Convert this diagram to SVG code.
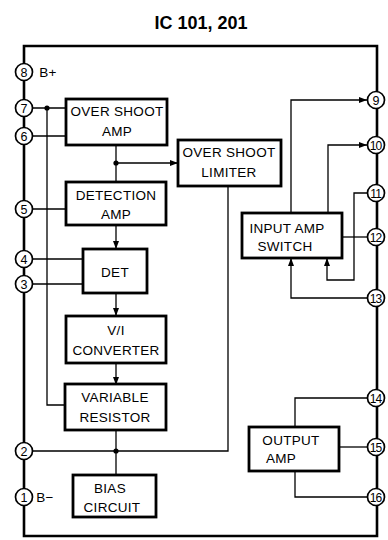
<svg xmlns="http://www.w3.org/2000/svg" width="388" height="540" viewBox="0 0 388 540">
<style>
.frame{fill:none;stroke:#000;stroke-width:2.6}
.box{fill:#fff;stroke:#000;stroke-width:2.8}
.wire{fill:none;stroke:#000;stroke-width:1.3}
.pin{fill:#fff;stroke:#000;stroke-width:1.7}
.lbl{font-family:"Liberation Sans",Arial,sans-serif;font-size:13.5px;fill:#000;text-anchor:middle;letter-spacing:0.3px}
.pn{font-family:"Liberation Sans",Arial,sans-serif;font-size:12.5px;fill:#000;text-anchor:middle}
.pn2{font-family:"Liberation Sans",Arial,sans-serif;font-size:12px;fill:#000;text-anchor:middle;letter-spacing:-0.8px}
.title{font-family:"Liberation Sans",Arial,sans-serif;font-size:18px;font-weight:bold;fill:#000;text-anchor:middle}
.dot{fill:#000}
</style>
<defs>
<marker id="arr" markerWidth="8" markerHeight="6" refX="8" refY="3" orient="auto" markerUnits="userSpaceOnUse">
<path d="M0,0 L8,3 L0,6 z" fill="#000"/>
</marker>
</defs>
<rect width="388" height="540" fill="#fff"/>
<text class="title" x="201" y="29">IC 101, 201</text>
<path class="frame" d="M24,46 H377 V536 H24 Z"/>
<g id="connectors">
<path class="wire" d="M33,108 H66"/>
<path class="wire" d="M47,108 V405 H65"/>
<path class="wire" d="M33,136 H66"/>
<path class="wire" d="M116,145 V182"/>
<path class="wire" d="M116,163 H178" marker-end="url(#arr)"/>
<path class="wire" d="M33,209 H66"/>
<path class="wire" d="M116,225 V249" marker-end="url(#arr)"/>
<path class="wire" d="M33,259 H83"/>
<path class="wire" d="M33,284 H83"/>
<path class="wire" d="M116,293 V316" marker-end="url(#arr)"/>
<path class="wire" d="M116,363 V385" marker-end="url(#arr)"/>
<path class="wire" d="M116,430 V475"/>
<path class="wire" d="M33,451 H228 V186"/>
<path class="wire" d="M291,213 V100 H367" marker-end="url(#arr)"/>
<path class="wire" d="M328,213 V145 H367" marker-end="url(#arr)"/>
<path class="wire" d="M368,193 H354 V280 H327 V258" marker-end="url(#arr)"/>
<path class="wire" d="M342,237 H368"/>
<path class="wire" d="M368,298 H291 V258" marker-end="url(#arr)"/>
<path class="wire" d="M368,398 H295 V427"/>
<path class="wire" d="M339,447 H368"/>
<path class="wire" d="M368,497 H295 V471"/>
<circle class="dot" cx="47" cy="108" r="2.6"/>
<circle class="dot" cx="116" cy="163" r="2.6"/>
<circle class="dot" cx="116" cy="451" r="2.6"/>
</g>
<g id="overshoot-amp">
<rect class="box" x="66" y="99" width="101" height="46"/>
<text class="lbl" x="117" y="116">OVER SHOOT</text>
<text class="lbl" x="117" y="136">AMP</text>
</g>
<g id="overshoot-limiter">
<rect class="box" x="178" y="140" width="103" height="46"/>
<text class="lbl" x="229" y="157">OVER SHOOT</text>
<text class="lbl" x="229" y="177">LIMITER</text>
</g>
<g id="detection-amp">
<rect class="box" x="66" y="182" width="100" height="43"/>
<text class="lbl" x="116" y="200">DETECTION</text>
<text class="lbl" x="116" y="219">AMP</text>
</g>
<g id="det">
<rect class="box" x="83" y="249" width="64" height="44"/>
<text class="lbl" x="115" y="277">DET</text>
</g>
<g id="vi-converter">
<rect class="box" x="66" y="316" width="100" height="47"/>
<text class="lbl" x="116" y="335">V/I</text>
<text class="lbl" x="116" y="355">CONVERTER</text>
</g>
<g id="variable-resistor">
<rect class="box" x="65" y="384" width="101" height="46"/>
<text class="lbl" x="115" y="402">VARIABLE</text>
<text class="lbl" x="115" y="422">RESISTOR</text>
</g>
<g id="bias-circuit">
<rect class="box" x="73" y="475" width="83" height="42"/>
<text class="lbl" x="110" y="493">BIAS</text>
<text class="lbl" x="112" y="512">CIRCUIT</text>
</g>
<g id="input-amp-switch">
<rect class="box" x="242" y="213" width="100" height="45"/>
<text class="lbl" x="287" y="233">INPUT AMP</text>
<text class="lbl" x="285" y="251">SWITCH</text>
</g>
<g id="output-amp">
<rect class="box" x="249" y="427" width="90" height="44"/>
<text class="lbl" x="291" y="445">OUTPUT</text>
<text class="lbl" x="281" y="463">AMP</text>
</g>
<g id="pins">
<g id="pin8"><circle class="pin" cx="24" cy="72" r="8.5"/><text class="pn" x="24" y="76.5">8</text><text class="lbl" x="48" y="77">B+</text></g>
<g id="pin7"><circle class="pin" cx="24" cy="108" r="8.5"/><text class="pn" x="24" y="112.5">7</text></g>
<g id="pin6"><circle class="pin" cx="24" cy="136" r="8.5"/><text class="pn" x="24" y="140.5">6</text></g>
<g id="pin5"><circle class="pin" cx="24" cy="209" r="8.5"/><text class="pn" x="24" y="213.5">5</text></g>
<g id="pin4"><circle class="pin" cx="24" cy="259" r="8.5"/><text class="pn" x="24" y="263.5">4</text></g>
<g id="pin3"><circle class="pin" cx="24" cy="284" r="8.5"/><text class="pn" x="24" y="288.5">3</text></g>
<g id="pin2"><circle class="pin" cx="24" cy="451" r="8.5"/><text class="pn" x="24" y="455.5">2</text></g>
<g id="pin1"><circle class="pin" cx="24" cy="497" r="8.5"/><text class="pn" x="24" y="501.5">1</text><text class="lbl" x="45" y="502">B−</text></g>
<g id="pin9"><circle class="pin" cx="376" cy="100" r="8.5"/><text class="pn" x="376" y="104.5">9</text></g>
<g id="pin10"><circle class="pin" cx="376" cy="145" r="8.5"/><text class="pn2" x="375.6" y="149.5">10</text></g>
<g id="pin11"><circle class="pin" cx="376" cy="193" r="8.5"/><text class="pn2" x="375.6" y="197.5">11</text></g>
<g id="pin12"><circle class="pin" cx="376" cy="237" r="8.5"/><text class="pn2" x="375.6" y="241.5">12</text></g>
<g id="pin13"><circle class="pin" cx="376" cy="298" r="8.5"/><text class="pn2" x="375.6" y="302.5">13</text></g>
<g id="pin14"><circle class="pin" cx="376" cy="398" r="8.5"/><text class="pn2" x="375.6" y="402.5">14</text></g>
<g id="pin15"><circle class="pin" cx="376" cy="447" r="8.5"/><text class="pn2" x="375.6" y="451.5">15</text></g>
<g id="pin16"><circle class="pin" cx="376" cy="497" r="8.5"/><text class="pn2" x="375.6" y="501.5">16</text></g>
</g>
</svg>
